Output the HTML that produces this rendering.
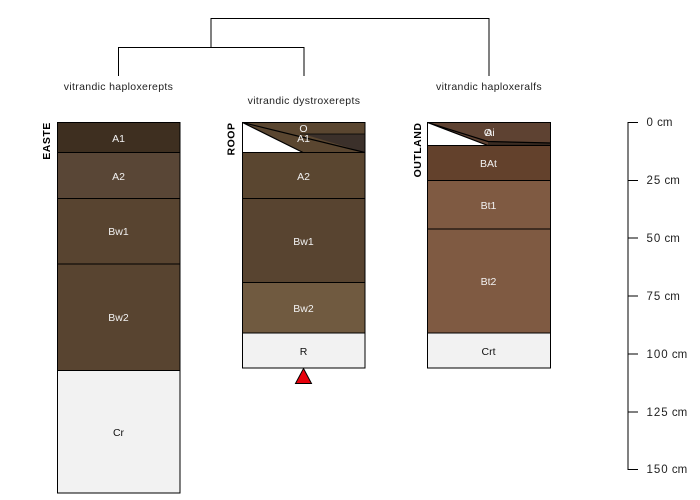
<!DOCTYPE html>
<html><head><meta charset="utf-8"><style>
html,body{margin:0;padding:0;background:#fff;width:700px;height:500px;overflow:hidden}
svg{display:block}
text{font-family:"Liberation Sans",sans-serif;font-size:10.5px}
.w{fill:#f2f2f2;text-anchor:middle}
.k{fill:#111;text-anchor:middle}
.t{fill:#222;text-anchor:middle;letter-spacing:.33px}
.b{font-weight:bold;font-size:10.5px;fill:#000;text-anchor:middle;letter-spacing:.5px}
.s text{fill:#222;font-size:11.5px}
.s tspan{letter-spacing:1px}
</style></head><body>
<svg width="700" height="500" viewBox="0 0 700 500" xmlns="http://www.w3.org/2000/svg">
<g fill="none" stroke="#000" stroke-width="1">
<path d="M118.500 76V47.500H304V76"/>
<path d="M211 47V18.500H489V76"/>
</g>
<text x="118.500" y="90" class="t">vitrandic haploxerepts</text>
<text x="304" y="104" class="t">vitrandic dystroxerepts</text>
<text x="489" y="90" class="t">vitrandic haploxeralfs</text>

<g stroke="#000" stroke-width="1">
<rect x="57.500" y="122.500" width="122.500" height="30" fill="#3e2f20"/>
<rect x="57.500" y="152.500" width="122.500" height="46" fill="#594636"/>
<rect x="57.500" y="198.500" width="122.500" height="65.500" fill="#584430"/>
<rect x="57.500" y="264" width="122.500" height="106.500" fill="#584430"/>
<rect x="57.500" y="370.500" width="122.500" height="122.500" fill="#f2f2f2"/>
</g>
<text class="w" x="118.500" y="142">A1</text>
<text class="w" x="118.500" y="180">A2</text>
<text class="w" x="118.500" y="235">Bw1</text>
<text class="w" x="118.500" y="321">Bw2</text>
<text class="k" x="118.500" y="436">Cr</text>
<text class="b" transform="translate(50,141) rotate(-90)">EASTE</text>

<g stroke="#000" stroke-width="1">
<rect x="242.500" y="122.500" width="122.500" height="30" fill="#5a4630"/>
<polygon points="242.500,122.500 303,152.500 242.500,152.500" fill="#fff" stroke="none"/>
<polygon points="303,134 365,134 365,152.500" fill="#3b302a" stroke="none"/>
<path d="M300 134H365" fill="none" stroke-width="0.8"/>
<path d="M242.500 122.500L365 152.500M242.500 122.500L303 152.500" fill="none" stroke-width="1.200"/>
<rect x="242.500" y="122.500" width="122.500" height="30" fill="none"/>
<rect x="242.500" y="152.500" width="122.500" height="46" fill="#5a4630"/>
<rect x="242.500" y="198.500" width="122.500" height="84" fill="#584430"/>
<rect x="242.500" y="282.500" width="122.500" height="50.500" fill="#705a40"/>
<rect x="242.500" y="333" width="122.500" height="35" fill="#f2f2f2"/>
</g>
<text class="w" x="303.500" y="132">O</text>
<text class="w" x="303.500" y="142">A1</text>
<text class="w" x="303.500" y="180">A2</text>
<text class="w" x="303.500" y="245">Bw1</text>
<text class="w" x="303.500" y="312">Bw2</text>
<text class="k" x="303.500" y="355">R</text>
<text class="b" transform="translate(234.500,139) rotate(-90)">ROOP</text>
<polygon points="303.500,368.500 311.500,383.500 295.500,383.500" fill="#e8000b" stroke="#000" stroke-width="1"/>

<g stroke="#000" stroke-width="1">
<rect x="427.500" y="122.500" width="123" height="23" fill="#5e4232"/>
<polygon points="427.500,122.500 488,145.500 427.500,145.500" fill="#fff" stroke="none"/>
<polygon points="488,141.500 550.500,142.500 550.500,145.500 488,145.500" fill="#3b2c22" stroke="none"/>
<path d="M427.500 122.500L488 141.500L550.500 143M427.500 122.500L488 145.500H550.500" fill="none" stroke-width="1.200"/>
<rect x="427.500" y="122.500" width="123" height="23" fill="none"/>
<rect x="427.500" y="145.500" width="123" height="35" fill="#63412c"/>
<rect x="427.500" y="180.500" width="123" height="48.500" fill="#7f5a42"/>
<rect x="427.500" y="229" width="123" height="104" fill="#7f5a42"/>
<rect x="427.500" y="333" width="123" height="35" fill="#f2f2f2"/>
</g>
<text class="w" x="488" y="136">O</text>
<text class="w" x="490" y="136">Ai</text>
<text class="w" x="488.500" y="167">BAt</text>
<text class="w" x="488.500" y="209">Bt1</text>
<text class="w" x="488.500" y="285">Bt2</text>
<text class="k" x="488.500" y="355">Crt</text>
<text class="b" transform="translate(421,150) rotate(-90)">OUTLAND</text>

<g fill="none" stroke="#000" stroke-width="1">
<path d="M628 122V470"/>
<path d="M628 122.500H638M628 180.500H638M628 238H638M628 296H638M628 354H638M628 412H638M628 469.500H638"/>
</g>
<g class="s">
<text x="646.500" y="126"><tspan>0</tspan> cm</text>
<text x="646.500" y="184"><tspan>25</tspan> cm</text>
<text x="646.500" y="242"><tspan>50</tspan> cm</text>
<text x="646.500" y="300"><tspan>75</tspan> cm</text>
<text x="646.500" y="358"><tspan>100</tspan> cm</text>
<text x="646.500" y="416"><tspan>125</tspan> cm</text>
<text x="646.500" y="473"><tspan>150</tspan> cm</text>
</g>
</svg>
</body></html>
